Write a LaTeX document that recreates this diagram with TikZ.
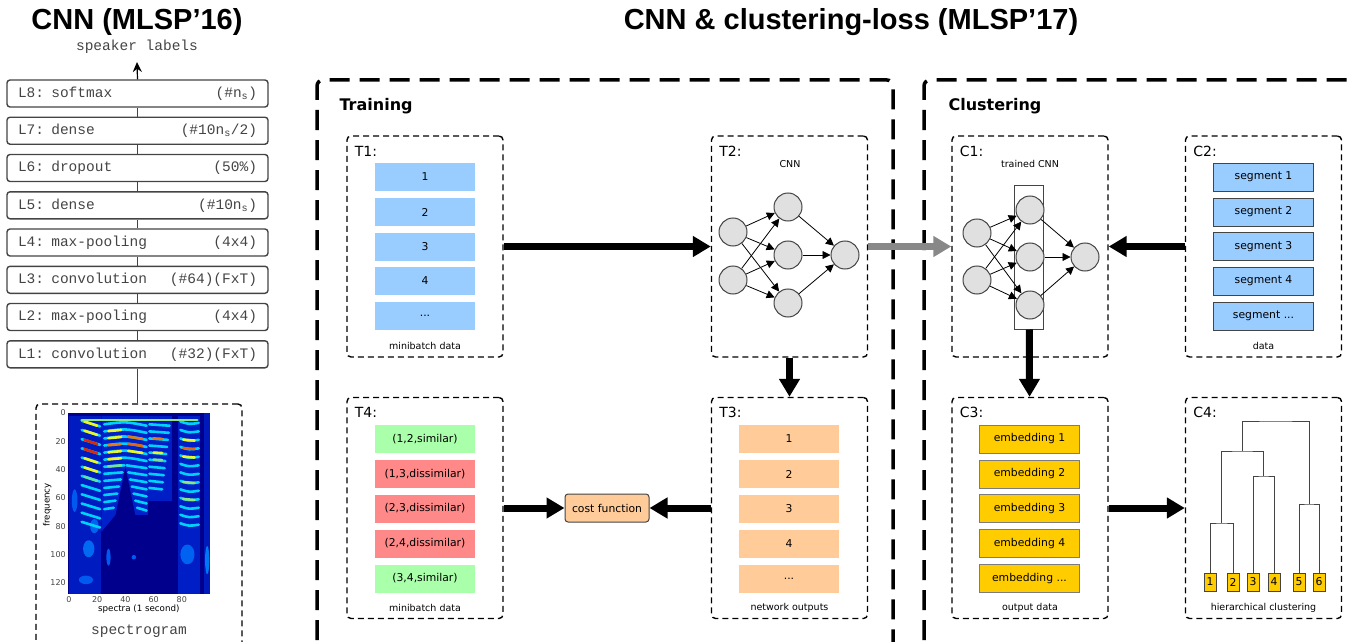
\documentclass[tikz,border=0pt]{standalone}
\usepackage{fontspec}
\setmainfont{DejaVu Sans}
\setmonofont{Liberation Mono}
\newfontfamily\headfont{Liberation Sans}
\usetikzlibrary{arrows.meta}

\newcommand{\pxfont}[1]{\fontsize{#1}{#1}\selectfont}

\definecolor{boxgray}{HTML}{444444}
\definecolor{cellgray}{HTML}{E0E0E0}
\definecolor{itemblue}{HTML}{99CCFF}
\definecolor{itempeach}{HTML}{FFCC99}
\definecolor{itemgreen}{HTML}{AAFFAA}
\definecolor{itemred}{HTML}{FF8888}
\definecolor{itemgold}{HTML}{FFCC00}
\definecolor{flowgray}{HTML}{888888}
% jet colour map for the spectrogram
\definecolor{jetdark}{RGB}{0,0,140}
\definecolor{jetmid}{RGB}{0,50,235}
\definecolor{jetcyan}{RGB}{0,210,255}
\definecolor{jetyellow}{RGB}{235,245,40}
\definecolor{jetred}{RGB}{225,40,0}

\begin{document}
\begin{tikzpicture}[
	x=1pt, y=-1pt,
	% Define the styles for boxes, items and arrows
	layer/.style={draw=boxgray, line width=1.4pt, rounded corners=3pt, minimum width=261, minimum height=27, text width=239, inner sep=0, text=boxgray, font=\ttfamily\pxfont{14.5}},
	stage/.style={draw, dash pattern=on 6pt off 4pt, line width=1.4pt, rounded corners=4pt, minimum width=156, minimum height=221, inner sep=0},
	section/.style={line width=3.5pt, dash pattern=on 20pt off 10pt, rounded corners=6pt},
	stagename/.style={anchor=west, font=\pxfont{14}},
	caption/.style={font=\pxfont{9.5}},
	item/.style={minimum width=100, minimum height=28, inner sep=0, font=\pxfont{10.8}},
	neuron/.style={circle, draw=boxgray, fill=cellgray, line width=1pt, minimum size=28, inner sep=0},
	synapse/.style={-{Triangle[length=8pt,width=8pt]}, line width=0.8pt},
	flow/.style={-{Triangle[length=18pt,width=20pt]}, line width=7pt},
	leaf/.style={draw=boxgray, fill=itemgold, line width=1pt, minimum width=12, minimum height=18, inner sep=0, font=\pxfont{10.8}},
	harmonic/.style={jetcyan, line width=2.6pt, line cap=round}
	]
	\useasboundingbox (0,0) rectangle (1353,642);
	\clip (0,0) rectangle (1353,642);

	% --- TITLES ---
	\node[font=\headfont\bfseries\pxfont{29}] (title16) at (137,22) {CNN (MLSP’16)};
	\node[font=\headfont\bfseries\pxfont{29}] (title17) at (851,22) {CNN \& clustering-loss (MLSP’17)};

	% --- LAYER STACK ---
	\node[text=boxgray, font=\ttfamily\pxfont{14.5}] (speaker) at (137,47) {speaker labels};
	\coordinate (speakerin) at (137,62);
	\node[layer] (l8) at (137.5,93.5)  {L8: softmax\hfill(\#n\textsubscript{s})};
	\node[layer] (l7) at (137.5,130.7) {L7: dense\hfill(\#10n\textsubscript{s}/2)};
	\node[layer] (l6) at (137.5,168)   {L6: dropout\hfill(50\%)};
	\node[layer] (l5) at (137.5,205.3) {L5: dense\hfill(\#10n\textsubscript{s})};
	\node[layer] (l4) at (137.5,242.5) {L4: max-pooling\hfill(4x4)};
	\node[layer] (l3) at (137.5,279.8) {L3: convolution\hfill(\#64)(FxT)};
	\node[layer] (l2) at (137.5,317)   {L2: max-pooling\hfill(4x4)};
	\node[layer] (l1) at (137.5,354.3) {L1: convolution\hfill(\#32)(FxT)};
	\node[stage, minimum width=206, minimum height=300] (spec) at (139,554) {};

	\draw[boxgray, line width=1.2pt] (l1) -- (l2) (l2) -- (l3) (l3) -- (l4) (l4) -- (l5)
		(l5) -- (l6) (l6) -- (l7) (l7) -- (l8);
	\draw[boxgray, line width=1.2pt] (l1.south) -- (spec.north -| l1.south);
	\draw[line width=1.2pt, -{Stealth[length=10pt,width=9pt]}] (l8.north) -- (speakerin);

	% spectrogram plot, drawn in data units (frames x bins)
	\begin{scope}[shift={(69,413)}, x=1.41pt, y=-1.414pt]
		\fill[jetdark] (-0.7,0) rectangle (100,128);
		\fill[jetmid!55!jetdark] (0,2) rectangle (23,128);
		\fill[jetmid!65!jetdark] (23,2) -- (56,2) -- (56,72) -- (47,72) -- (40,38) -- (33,72) -- (23,84) -- cycle;
		\fill[jetmid!60!jetdark] (56,2) rectangle (73,62);
		\fill[jetmid!60!jetdark] (77,2) rectangle (93,128);
		\fill[jetmid!50!jetdark] (96,0) rectangle (100,128);
		% faint blobs in the lower bins
		\fill[jetcyan!35!jetmid] (14,96) ellipse (4 and 6);
		\fill[jetcyan!30!jetmid] (18,80) ellipse (3 and 5);
		\fill[jetcyan!25!jetmid] (4,62) ellipse (2 and 8);
		\fill[jetcyan!30!jetmid] (84,100) ellipse (5 and 7);
		\fill[jetcyan!45!jetmid] (98,104) ellipse (1.5 and 10);
		\fill[jetcyan!25!jetmid] (28,102) ellipse (1.5 and 6);
		\fill[jetcyan!25!jetmid] (46,102) circle (1.6);
		\fill[jetcyan!25!jetmid] (12,118) ellipse (5 and 3);
		% harmonics
		\foreach \k in {1,...,12}
			\draw[harmonic] (9,{6.5*\k-1}) .. controls (15,{6.5*\k+1}) .. (22,{6.5*\k+3});
		\foreach \k in {1,...,6}
			\draw[harmonic] (25,{5*\k+3}) .. controls (40,{5*\k+1}) .. (55,{5*\k+4});
		\foreach \k in {7,...,13} {
			\draw[harmonic] (25,{5*\k+3}) -- ({40-(5*\k-32)*0.25},{5*\k+2});
			\draw[harmonic] ({40+(5*\k-32)*0.25},{5*\k+2}) -- (55,{5*\k+4});
		}
		\foreach \k in {1,...,10}
			\draw[harmonic] (57,{5*\k+3}) -- ({72-\k*0.6},{5*\k+4});
		\foreach \k in {1,...,13}
			\draw[harmonic] (79,{6*\k}) .. controls (85,{6*\k+2}) .. (92,{6*\k+1});
		% strong partials
		\foreach \k/\c in {1/jetyellow, 2/jetyellow, 3/jetred, 4/jetred, 5/jetyellow, 6/jetyellow, 7/jetyellow!40!jetcyan}
			\draw[harmonic, \c] (11,{6.5*\k-0.5}) .. controls (15,{6.5*\k+1}) .. (20,{6.5*\k+2.5});
		\foreach \k/\c in {2/jetyellow, 3/jetyellow, 4/jetred!60!jetyellow, 5/jetyellow, 6/jetyellow, 7/jetyellow!50!jetcyan}
			\draw[harmonic, \c] (28,{5*\k+2.8}) -- (37,{5*\k+2});
		\foreach \k/\c in {3/jetred!60!jetyellow, 4/jetred!70!jetyellow, 5/jetyellow}
			\draw[harmonic, \c] (42,{5*\k+1.8}) -- (52,{5*\k+3.2});
		\foreach \k/\c in {3/jetred!60!jetyellow, 5/jetyellow, 6/jetyellow!50!jetcyan}
			\draw[harmonic, \c] (60,{5*\k+3}) -- (66,{5*\k+3.3});
		\foreach \k/\c in {3/jetyellow, 4/jetred!70!jetyellow, 5/jetyellow, 8/jetyellow!60!jetcyan, 10/jetyellow!60!jetcyan}
			\draw[harmonic, \c] (81,{6*\k+0.8}) -- (89,{6*\k+1.5});
		\draw[harmonic, jetyellow!60!jetcyan] (9,5) -- (91,5);
		% axes
		\foreach \v in {0,20,...,120}
			\node[anchor=east, inner sep=1pt, text=boxgray, font=\pxfont{8}] (ytick\v) at (-1.5,\v) {\v};
		\foreach \v in {0,20,...,80}
			\node[anchor=north, inner sep=1pt, text=boxgray, font=\pxfont{8}] (xtick\v) at (\v,129) {\v};
		\node[font=\pxfont{8.7}] (xlabel) at (49.5,138.5) {spectra (1 second)};
		\node[font=\pxfont{8.7}, rotate=90] (ylabel) at (-15.5,65) {frequency};
	\end{scope}
	\node[text=boxgray, font=\ttfamily\pxfont{14.5}] (spectext) at (139,631) {spectrogram};

	% --- SECTIONS ---
	\draw[section] (317,670) -- (317,80) -- (893,80) -- (893,670);
	\draw[section] (924,670) -- (924,80) -- (1380,80);
	\node[anchor=west, font=\bfseries\pxfont{16}] (training) at (336,106) {Training};
	\node[anchor=west, font=\bfseries\pxfont{16}] (clustering) at (945,106) {Clustering};

	% --- STAGES ---
	\node[stage] (t1) at (425,246.5) {};
	\node[stage] (t2) at (789.5,246.5) {};
	\node[stage] (c1) at (1030,246.5) {};
	\node[stage] (c2) at (1263.5,246.5) {};
	\node[stage] (t4) at (425,508) {};
	\node[stage] (t3) at (789.5,508) {};
	\node[stage] (c3) at (1030,508) {};
	\node[stage] (c4) at (1263.5,508) {};

	\node[stagename] (t1name) at ([shift={(5,16)}]t1.north west) {T1:};
	\node[stagename] (t2name) at ([shift={(5,16)}]t2.north west) {T2:};
	\node[stagename] (c1name) at ([shift={(5,16)}]c1.north west) {C1:};
	\node[stagename] (c2name) at ([shift={(5,16)}]c2.north west) {C2:};
	\node[stagename] (t4name) at ([shift={(5,16)}]t4.north west) {T4:};
	\node[stagename] (t3name) at ([shift={(5,16)}]t3.north west) {T3:};
	\node[stagename] (c3name) at ([shift={(5,16)}]c3.north west) {C3:};
	\node[stagename] (c4name) at ([shift={(5,16)}]c4.north west) {C4:};

	\node[caption] (t1cap) at ([shift={(0,-12)}]t1.south) {minibatch data};
	\node[caption] (c2cap) at ([shift={(0,-12)}]c2.south) {data};
	\node[caption] (t4cap) at ([shift={(0,-11)}]t4.south) {minibatch data};
	\node[caption] (t3cap) at ([shift={(0,-11)}]t3.south) {network outputs};
	\node[caption] (c3cap) at ([shift={(0,-11)}]c3.south) {output data};
	\node[caption] (c4cap) at ([shift={(0,-11)}]c4.south) {hierarchical clustering};
	\node[caption] (t2cap) at (790,164) {CNN};
	\node[caption] (c1cap) at (1030,164) {trained CNN};

	% T1: minibatch
	\node[item, fill=itemblue] (t1a) at (425,177)   {1};
	\node[item, fill=itemblue] (t1b) at (425,212)   {2};
	\node[item, fill=itemblue] (t1c) at (425,246.5) {3};
	\node[item, fill=itemblue] (t1d) at (425,281)   {4};
	\node[item, fill=itemblue] (t1e) at (425,316)   {...};

	% C2: segments
	\node[item, fill=itemblue, draw=boxgray, line width=1pt] (c2a) at (1263.5,177)   {segment 1};
	\node[item, fill=itemblue, draw=boxgray, line width=1pt] (c2b) at (1263.5,212)   {segment 2};
	\node[item, fill=itemblue, draw=boxgray, line width=1pt] (c2c) at (1263.5,246.5) {segment 3};
	\node[item, fill=itemblue, draw=boxgray, line width=1pt] (c2d) at (1263.5,281)   {segment 4};
	\node[item, fill=itemblue, draw=boxgray, line width=1pt] (c2e) at (1263.5,316)   {segment ...};

	% T4: pairs
	\node[item, fill=itemgreen] (t4a) at (425,439)   {(1,2,similar)};
	\node[item, fill=itemred]   (t4b) at (425,474)   {(1,3,dissimilar)};
	\node[item, fill=itemred]   (t4c) at (425,508.5) {(2,3,dissimilar)};
	\node[item, fill=itemred]   (t4d) at (425,543.5) {(2,4,dissimilar)};
	\node[item, fill=itemgreen] (t4e) at (425,578.5) {(3,4,similar)};

	% T3: network outputs
	\node[item, fill=itempeach] (t3a) at (789,439)   {1};
	\node[item, fill=itempeach] (t3b) at (789,474)   {2};
	\node[item, fill=itempeach] (t3c) at (789,508.5) {3};
	\node[item, fill=itempeach] (t3d) at (789,543.5) {4};
	\node[item, fill=itempeach] (t3e) at (789,578.5) {...};

	% C3: embeddings
	\node[item, fill=itemgold, draw=boxgray!70, line width=1pt] (c3a) at (1029.5,439)   {embedding 1};
	\node[item, fill=itemgold, draw=boxgray!70, line width=1pt] (c3b) at (1029.5,474)   {embedding 2};
	\node[item, fill=itemgold, draw=boxgray!70, line width=1pt] (c3c) at (1029.5,508.5) {embedding 3};
	\node[item, fill=itemgold, draw=boxgray!70, line width=1pt] (c3d) at (1029.5,543.5) {embedding 4};
	\node[item, fill=itemgold, draw=boxgray!70, line width=1pt] (c3e) at (1029.5,578.5) {embedding ...};

	\node[draw=boxgray, fill=itempeach, line width=1pt, rounded corners=3pt, minimum width=84, minimum height=28, inner sep=0, font=\pxfont{10.8}] (cost) at (607,508) {cost function};

	% --- NETWORKS ---
	\node[neuron] (ta1) at (733,232) {};
	\node[neuron] (ta2) at (733,280) {};
	\node[neuron] (tb1) at (788,207) {};
	\node[neuron] (tb2) at (788,255) {};
	\node[neuron] (tb3) at (788,303) {};
	\node[neuron] (tc)  at (845,255) {};

	\draw[synapse] (ta1) -- (tb1);
	\draw[synapse] (ta1) -- (tb2);
	\draw[synapse] (ta1) -- (tb3);
	\draw[synapse] (ta2) -- (tb1);
	\draw[synapse] (ta2) -- (tb2);
	\draw[synapse] (ta2) -- (tb3);
	\draw[synapse] (tb1) -- (tc);
	\draw[synapse] (tb2) -- (tc);
	\draw[synapse] (tb3) -- (tc);

	\node[draw=boxgray, line width=1pt, minimum width=29, minimum height=144, inner sep=0] (embed) at (1029,257) {};
	\node[neuron] (ca1) at (977,233) {};
	\node[neuron] (ca2) at (977,280) {};
	\node[neuron] (cb1) at (1030,210) {};
	\node[neuron] (cb2) at (1030,257) {};
	\node[neuron] (cb3) at (1030,305) {};
	\node[neuron] (cc)  at (1085,257) {};

	\draw[synapse] (ca1) -- (cb1);
	\draw[synapse] (ca1) -- (cb2);
	\draw[synapse] (ca1) -- (cb3);
	\draw[synapse] (ca2) -- (cb1);
	\draw[synapse] (ca2) -- (cb2);
	\draw[synapse] (ca2) -- (cb3);
	\draw[synapse] (cb1) -- (cc);
	\draw[synapse] (cb2) -- (cc);
	\draw[synapse] (cb3) -- (cc);

	% --- DENDROGRAM ---
	\node[leaf] (d1) at (1210,582) {1};
	\node[leaf] (d2) at (1233,582) {2};
	\node[leaf] (d3) at (1253,582) {3};
	\node[leaf] (d4) at (1274,582) {4};
	\node[leaf] (d5) at (1299,582) {5};
	\node[leaf] (d6) at (1319,582) {6};
	\coordinate (m12) at (1221.5,523);
	\coordinate (m34) at (1263.5,476);
	\coordinate (m1234) at (1242.5,451);
	\coordinate (m56) at (1309,504);
	\coordinate (root) at (1275.75,421);

	\draw[boxgray, line width=1pt] (d1.north) |- (m12) -| (d2.north);
	\draw[boxgray, line width=1pt] (d3.north) |- (m34) -| (d4.north);
	\draw[boxgray, line width=1pt] (m12) |- (m1234) -| (m34);
	\draw[boxgray, line width=1pt] (d5.north) |- (m56) -| (d6.north);
	\draw[boxgray, line width=1pt] (m1234) |- (root) -| (m56);

	% --- FLOW ARROWS ---
	\draw[flow] (t1) -- (t2);
	\draw[flow, flowgray] (t2) -- (c1);
	\draw[flow] (c2) -- (c1);
	\draw[flow] (t2) -- (t3);
	\draw[flow] (embed) -- (c3);
	\draw[flow] (t4) -- (cost);
	\draw[flow] (t3) -- (cost);
	\draw[flow] (c3) -- (c4);

\end{tikzpicture}
\end{document}
